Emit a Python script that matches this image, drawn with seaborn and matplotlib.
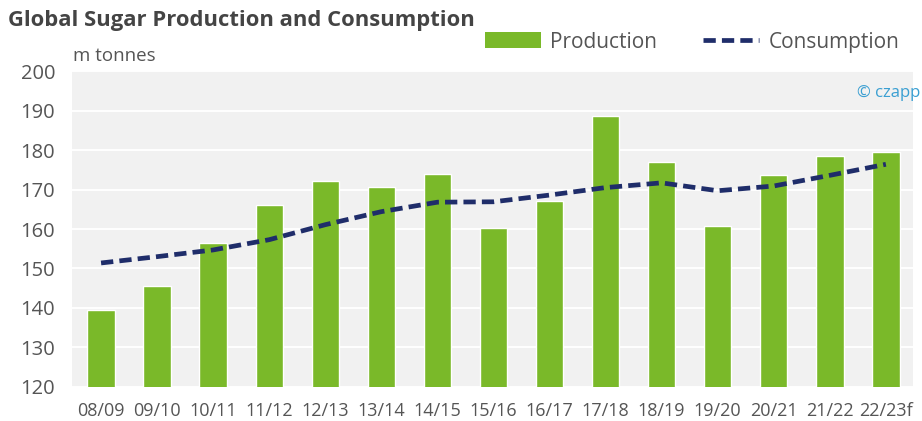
import matplotlib
matplotlib.use("Agg")
import matplotlib.pyplot as plt
from matplotlib.lines import Line2D
from matplotlib.patches import Patch
import numpy as np
import pandas as pd
import seaborn as sns

seasons = ["08/09", "09/10", "10/11", "11/12", "12/13", "13/14", "14/15", "15/16",
           "16/17", "17/18", "18/19", "19/20", "20/21", "21/22", "22/23f"]
production = [139.4, 145.6, 156.5, 166.2, 172.1, 170.6, 173.9, 160.3,
              167.0, 188.7, 177.0, 160.8, 173.7, 178.4, 179.6]
consumption = [151.4, 153.0, 154.7, 157.3, 161.1, 164.4, 166.8, 166.9,
               168.6, 170.5, 171.7, 169.7, 170.9, 173.6, 176.4]
y_ticks = [120, 130, 140, 150, 160, 170, 180, 190, 200]

GREEN = "#7ab929"
NAVY = "#1f2d6a"
TEXT = "#555555"

sns.set_theme(style="white")
plt.rcParams["font.family"] = ["Open Sans", "DejaVu Sans"]

df = pd.DataFrame({"season": seasons, "production": production,
                   "consumption": consumption, "idx": np.arange(len(seasons))})

fig = plt.figure(figsize=(9.22, 4.21), dpi=100)
ax = fig.add_axes([0.078, 0.081, 0.912, 0.750])
ax.set_facecolor("#f1f1f1")

sns.barplot(data=df, x="season", y="production", color=GREEN, width=0.49,
            saturation=1, ax=ax, zorder=2)
sns.lineplot(data=df, x="idx", y="consumption", color=NAVY, linewidth=3.4,
             ax=ax, zorder=3)
ax.lines[-1].set_dashes((2.6, 1.3))
ax.lines[-1].set_solid_capstyle("butt")

ax.set_ylim(120, 200)
ax.set_xlim(-0.52, 14.48)
ax.set_yticks(y_ticks)
ax.yaxis.grid(True, color="white", linewidth=1.4, zorder=0)
ax.set_axisbelow(True)
for s in ax.spines.values():
    s.set_visible(False)
ax.set_xlabel("")
ax.set_ylabel("")
ax.tick_params(axis="y", labelsize=14.5, labelcolor=TEXT, length=0, pad=12)
ax.tick_params(axis="x", labelsize=13, labelcolor=TEXT, length=0, pad=11)
ax.set_xticks(range(len(seasons)))
ax.set_xticklabels(seasons)

fig.text(0.009, 0.952, "Global Sugar Production and Consumption", fontsize=15.8,
         fontweight="bold", color="#444444", ha="left", va="center")
fig.text(0.079, 0.866, "m tonnes", fontsize=13.5, color=TEXT, ha="left", va="center")
fig.text(0.998, 0.778, "© czapp", fontsize=12, color="#3a9fd2",
         ha="right", va="center")

handles = [Patch(facecolor=GREEN, edgecolor="none"),
           Line2D([], [], color=NAVY, linewidth=3.4, dashes=(2.6, 1.3))]
fig.legend(handles, ["Production", "Consumption"], loc="center right",
           bbox_to_anchor=(0.996, 0.9), ncol=2, frameon=False, fontsize=15,
           labelcolor=TEXT, handlelength=2.7, handleheight=0.8, columnspacing=2.2,
           handletextpad=0.45)

fig.savefig("out.png", dpi=100)
